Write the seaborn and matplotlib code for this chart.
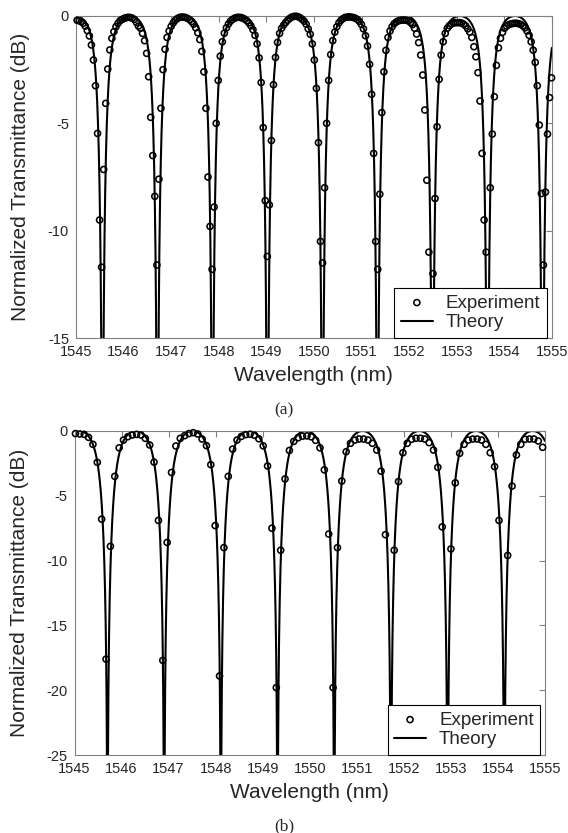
import numpy as np
import pandas as pd
import matplotlib
matplotlib.use("Agg")
import matplotlib.pyplot as plt
import seaborn as sns

# ---- data -------------------------------------------------------------
# theory: notch (resonance) wavelengths in nm and ring parameters (a, r)
NOTCH_A = [1545.555, 1546.711, 1547.867, 1549.023, 1550.179,
           1551.335, 1552.491, 1553.647, 1554.803]
NOTCH_B = [1545.700, 1546.905, 1548.110, 1549.315,
           1550.520, 1551.725, 1552.930, 1554.135]
RING_A = (0.675, 0.667)
RING_B = (0.550, 0.545)

# experiment: OSA sweep start / step (nm) and measured values (dB)
EXP_A_START, EXP_A_STEP = 1545.023, 0.04298
EXP_A_DB = [
    -0.2, -0.22, -0.27, -0.34, -0.47, -0.68, -0.93, -1.35, -2.05, -3.25, -5.47, -9.5,
    -11.7, -7.15, -4.07, -2.47, -1.58, -1.04, -0.73, -0.5, -0.34, -0.22, -0.16, -0.11, -0.08,
    -0.06, -0.07, -0.1, -0.16, -0.3, -0.47, -0.57, -0.81, -1.15, -1.74, -2.83, -4.72, -6.5, -8.4,
    -11.6, -7.6, -4.3, -2.5, -1.55, -1.0, -0.7, -0.48, -0.32, -0.2, -0.12, -0.07, -0.05,
    -0.05, -0.07, -0.11, -0.17, -0.26, -0.38, -0.55, -0.78, -1.1, -1.65, -2.6, -4.3, -7.5, -9.8,
    -11.8, -8.9, -5.0, -3.0, -1.87, -1.2, -0.8, -0.55, -0.37, -0.24, -0.16, -0.1, -0.07,
    -0.06, -0.07, -0.1, -0.15, -0.22, -0.32, -0.46, -0.64, -0.9, -1.3, -1.95, -3.1, -5.2, -8.6,
    -11.2, -8.8, -5.8, -3.2, -1.93, -1.23, -0.81, -0.57, -0.42, -0.3, -0.19, -0.11, -0.05,
    -0.02, -0.01, -0.03, -0.08, -0.15, -0.24, -0.38, -0.6, -0.85, -1.3, -2.05, -3.37, -5.9, -10.5,
    -11.5, -8.0, -5.0, -3.0, -1.8, -1.15, -0.75, -0.5, -0.32, -0.2, -0.12, -0.07, -0.05,
    -0.04, -0.05, -0.07, -0.1, -0.16, -0.25, -0.39, -0.6, -0.92, -1.4, -2.25, -3.65, -6.4, -10.5,
    -11.8, -8.3, -4.5, -2.6, -1.6, -1.0, -0.7, -0.5, -0.36, -0.28, -0.23, -0.2, -0.19,
    -0.19, -0.2, -0.23, -0.3, -0.4, -0.57, -0.84, -1.24, -1.82, -2.75, -4.38, -7.65, -11.0, -16.0,
    -12.0, -8.5, -5.16, -2.95, -1.82, -1.2, -0.81, -0.57, -0.45, -0.37, -0.33, -0.31, -0.31,
    -0.31, -0.33, -0.38, -0.46, -0.6, -0.75, -1.0, -1.43, -1.9, -2.64, -3.96, -6.4, -9.5, -11.0,
    -16.0, -8.0, -5.5, -3.76, -2.3, -1.48, -1.04, -0.76, -0.57, -0.47, -0.41, -0.37, -0.35,
    -0.34, -0.34, -0.36, -0.4, -0.46, -0.55, -0.7, -0.9, -1.2, -1.59, -2.16, -3.25, -5.08, -8.27,
    -11.6, -8.2, -5.5, -3.8, -2.88,
]

EXP_B_START, EXP_B_STEP = 1545.02, 0.0928
EXP_B_DB = [
    -0.2, -0.23, -0.26, -0.49, -1.03, -2.42, -6.8,
    -17.6, -8.9, -3.5, -1.3, -0.7, -0.44, -0.31, -0.26, -0.31, -0.57, -1.08, -2.4, -6.9,
    -17.7, -8.6, -3.2, -1.16, -0.57, -0.36, -0.2, -0.13, -0.23, -0.62, -1.13, -2.6, -7.3,
    -18.9, -9.0, -3.5, -1.4, -0.7, -0.42, -0.28, -0.25, -0.33, -0.6, -1.15, -2.7, -7.5,
    -19.8, -9.2, -3.7, -1.5, -0.8, -0.52, -0.4, -0.38, -0.45, -0.72, -1.3, -3.0, -7.95,
    -19.8, -9.0, -3.86, -1.6, -0.95, -0.7, -0.62, -0.62, -0.7, -0.95, -1.47, -3.1, -8.0,
    -30.0, -9.2, -3.9, -1.68, -0.95, -0.64, -0.56, -0.56, -0.62, -0.9, -1.47, -2.8, -7.4,
    -30.0, -9.1, -4.0, -1.72, -1.03, -0.7, -0.62, -0.62, -0.7, -1.03, -1.68, -2.75, -6.9,
    -30.0, -9.6, -4.25, -1.85, -1.03, -0.64, -0.62, -0.62, -0.77, -1.26,
]

X_TICKS = list(range(1545, 1556))
Y_TICKS_A = [0, -5, -10, -15]
Y_TICKS_B = [0, -5, -10, -15, -20, -25]


def ring_db(wl, notches, a, r):
    # all-pass ring transmission, normalised to its maximum
    fsr = np.mean(np.diff(notches))
    phi = 2 * np.pi * (wl - notches[0]) / fsr
    t = (a * a + r * r - 2 * a * r * np.cos(phi)) / (1 + (a * r) ** 2 - 2 * a * r * np.cos(phi))
    return 10 * np.log10(t / t.max())


wl = np.linspace(1545, 1555, 20001)
theory_a = pd.DataFrame({"wl": wl, "db": ring_db(wl, NOTCH_A, *RING_A)})
theory_b = pd.DataFrame({"wl": wl, "db": ring_db(wl, NOTCH_B, *RING_B)})
exp_a = pd.DataFrame({"wl": EXP_A_START + EXP_A_STEP * np.arange(len(EXP_A_DB)), "db": EXP_A_DB})
exp_b = pd.DataFrame({"wl": EXP_B_START + EXP_B_STEP * np.arange(len(EXP_B_DB)), "db": EXP_B_DB})

# ---- plot -------------------------------------------------------------
sns.set_theme(style="white")
plt.rcParams["font.family"] = ["Liberation Sans", "DejaVu Sans"]
plt.rcParams["axes.unicode_minus"] = False

fig = plt.figure(figsize=(5.68, 8.33), dpi=100)
ax_a = fig.add_axes([0.1338, 0.5942, 0.8378, 0.3866])
ax_b = fig.add_axes([0.1312, 0.0936, 0.8283, 0.389])

panels = [
    (ax_a, theory_a, exp_a, -15, Y_TICKS_A, "(a)", 1 - 410 / 833),
    (ax_b, theory_b, exp_b, -25, Y_TICKS_B, "(b)", 1 - 826 / 833),
]

for ax, th, ex, ylow, yticks, tag, tag_y in panels:
    sns.lineplot(data=th, x="wl", y="db", ax=ax, color="black", lw=1.5,
                 estimator=None, sort=False, label="Theory", zorder=2)
    vis = ex[ex["db"] >= ylow]
    sns.scatterplot(data=vis, x="wl", y="db", ax=ax, marker="o", s=19,
                    facecolors="none", edgecolor="black", linewidth=1.15,
                    label="Experiment", zorder=3, clip_on=False)
    ax.set_xlim(1545, 1555)
    ax.set_ylim(ylow, 0)
    ax.set_xticks(X_TICKS, [str(t) for t in X_TICKS])
    ax.set_yticks(yticks, [str(t) for t in yticks])
    ax.tick_params(direction="in", top=True, right=True, length=4, width=0.8,
                   color="#808080", labelsize=10.5, pad=5)
    for sp in ax.spines.values():
        sp.set_color("#808080")
        sp.set_linewidth(0.8)
    ax.set_xlabel("Wavelength (nm)", fontsize=15, labelpad=5)
    ax.set_ylabel("Normalized Transmittance (dB)", fontsize=15)
    ax.yaxis.set_label_coords(-0.097, 0.5)

    handles, labels = ax.get_legend_handles_labels()
    order = [labels.index("Experiment"), labels.index("Theory")]
    leg = ax.legend([handles[i] for i in order], [labels[i] for i in order],
                    loc="lower right", bbox_to_anchor=(0.99, 0.0), borderaxespad=0.0,
                    fontsize=13.5, frameon=True, fancybox=False, framealpha=1,
                    edgecolor="black", labelspacing=0.15, borderpad=0.35,
                    handlelength=1.7, handletextpad=0.7)
    leg.get_frame().set_linewidth(0.8)

    fig.text(0.5, tag_y, tag, ha="center", va="center", fontsize=12.5,
             family=["Liberation Serif", "DejaVu Serif"])

fig.savefig("out.png", dpi=100)
